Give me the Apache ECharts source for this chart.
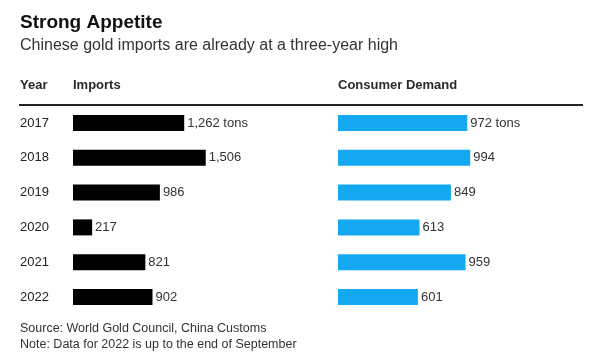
<!DOCTYPE html>
<html><head><meta charset="utf-8">
<script src="https://cdn.jsdelivr.net/npm/echarts@6/dist/echarts.min.js"></script>
<style>html,body{margin:0;padding:0;background:#fff}#c{width:594px;height:360px}</style>
</head><body><div id="c"></div>
<script>
const years = ['2017','2018','2019','2020','2021','2022'];
const imports = [1262, 1506, 986, 217, 821, 902];
const demand = [972, 994, 849, 613, 959, 601];
const FONT = '"Liberation Sans", Arial, sans-serif';

function fmt(v, i){
  const s = v.toLocaleString('en-US');
  return i === 0 ? s + ' tons' : s;
}

const chart = echarts.init(document.getElementById('c'));
const gridTop = 105.6, gridH = 208.8;
chart.setOption({
  backgroundColor: '#ffffff',
  animation: false,
  title: [
    {text: 'Strong Appetite', left: 20, top: 13, padding: 0, textStyle: {fontFamily: FONT, fontSize: 19, fontWeight: 'bold', color: '#111'}},
    {text: 'Chinese gold imports are already at a three-year high', left: 20, top: 38, padding: 0, textStyle: {fontFamily: FONT, fontSize: 16, fontWeight: 'normal', color: '#333'}}
  ],
  grid: [
    {left: 73, top: gridTop, width: 141, height: gridH},
    {left: 338, top: gridTop, width: 133, height: gridH}
  ],
  xAxis: [
    {gridIndex: 0, type: 'value', min: 0, max: 1600, show: false},
    {gridIndex: 1, type: 'value', min: 0, max: 1000, show: false}
  ],
  yAxis: [
    {gridIndex: 0, type: 'category', data: years, inverse: true,
     axisLine: {show: false}, axisTick: {show: false},
     axisLabel: {align: 'left', margin: 53, fontFamily: FONT, fontSize: 13, color: '#222'}},
    {gridIndex: 1, type: 'category', data: years, inverse: true, show: false}
  ],
  series: [
    {type: 'bar', xAxisIndex: 0, yAxisIndex: 0, data: imports, barWidth: 16,
     itemStyle: {color: '#000'},
     label: {show: true, position: 'right', distance: 3, fontFamily: FONT, fontSize: 13, color: '#333',
       formatter: p => fmt(p.value, p.dataIndex)}},
    {type: 'bar', xAxisIndex: 1, yAxisIndex: 1, data: demand, barWidth: 16,
     itemStyle: {color: '#13a8ef'},
     label: {show: true, position: 'right', distance: 3, fontFamily: FONT, fontSize: 13, color: '#333',
       formatter: p => fmt(p.value, p.dataIndex)}}
  ],
  graphic: [
    {type: 'text', left: 20, top: 79, style: {text: 'Year', font: 'bold 13px ' + FONT, fill: '#2a2a2a'}},
    {type: 'text', left: 73, top: 79, style: {text: 'Imports', font: 'bold 13px ' + FONT, fill: '#2a2a2a'}},
    {type: 'text', left: 338, top: 79, style: {text: 'Consumer Demand', font: 'bold 13px ' + FONT, fill: '#2a2a2a'}},
    {type: 'rect', shape: {x: 19, y: 104, width: 564, height: 2}, style: {fill: '#222'}},
    {type: 'text', left: 20, top: 322, style: {text: 'Source: World Gold Council, China Customs', font: '12.5px ' + FONT, fill: '#333'}},
    {type: 'text', left: 20, top: 338, style: {text: 'Note: Data for 2022 is up to the end of September', font: '12.5px ' + FONT, fill: '#333'}}
  ]
});
</script></body></html>
